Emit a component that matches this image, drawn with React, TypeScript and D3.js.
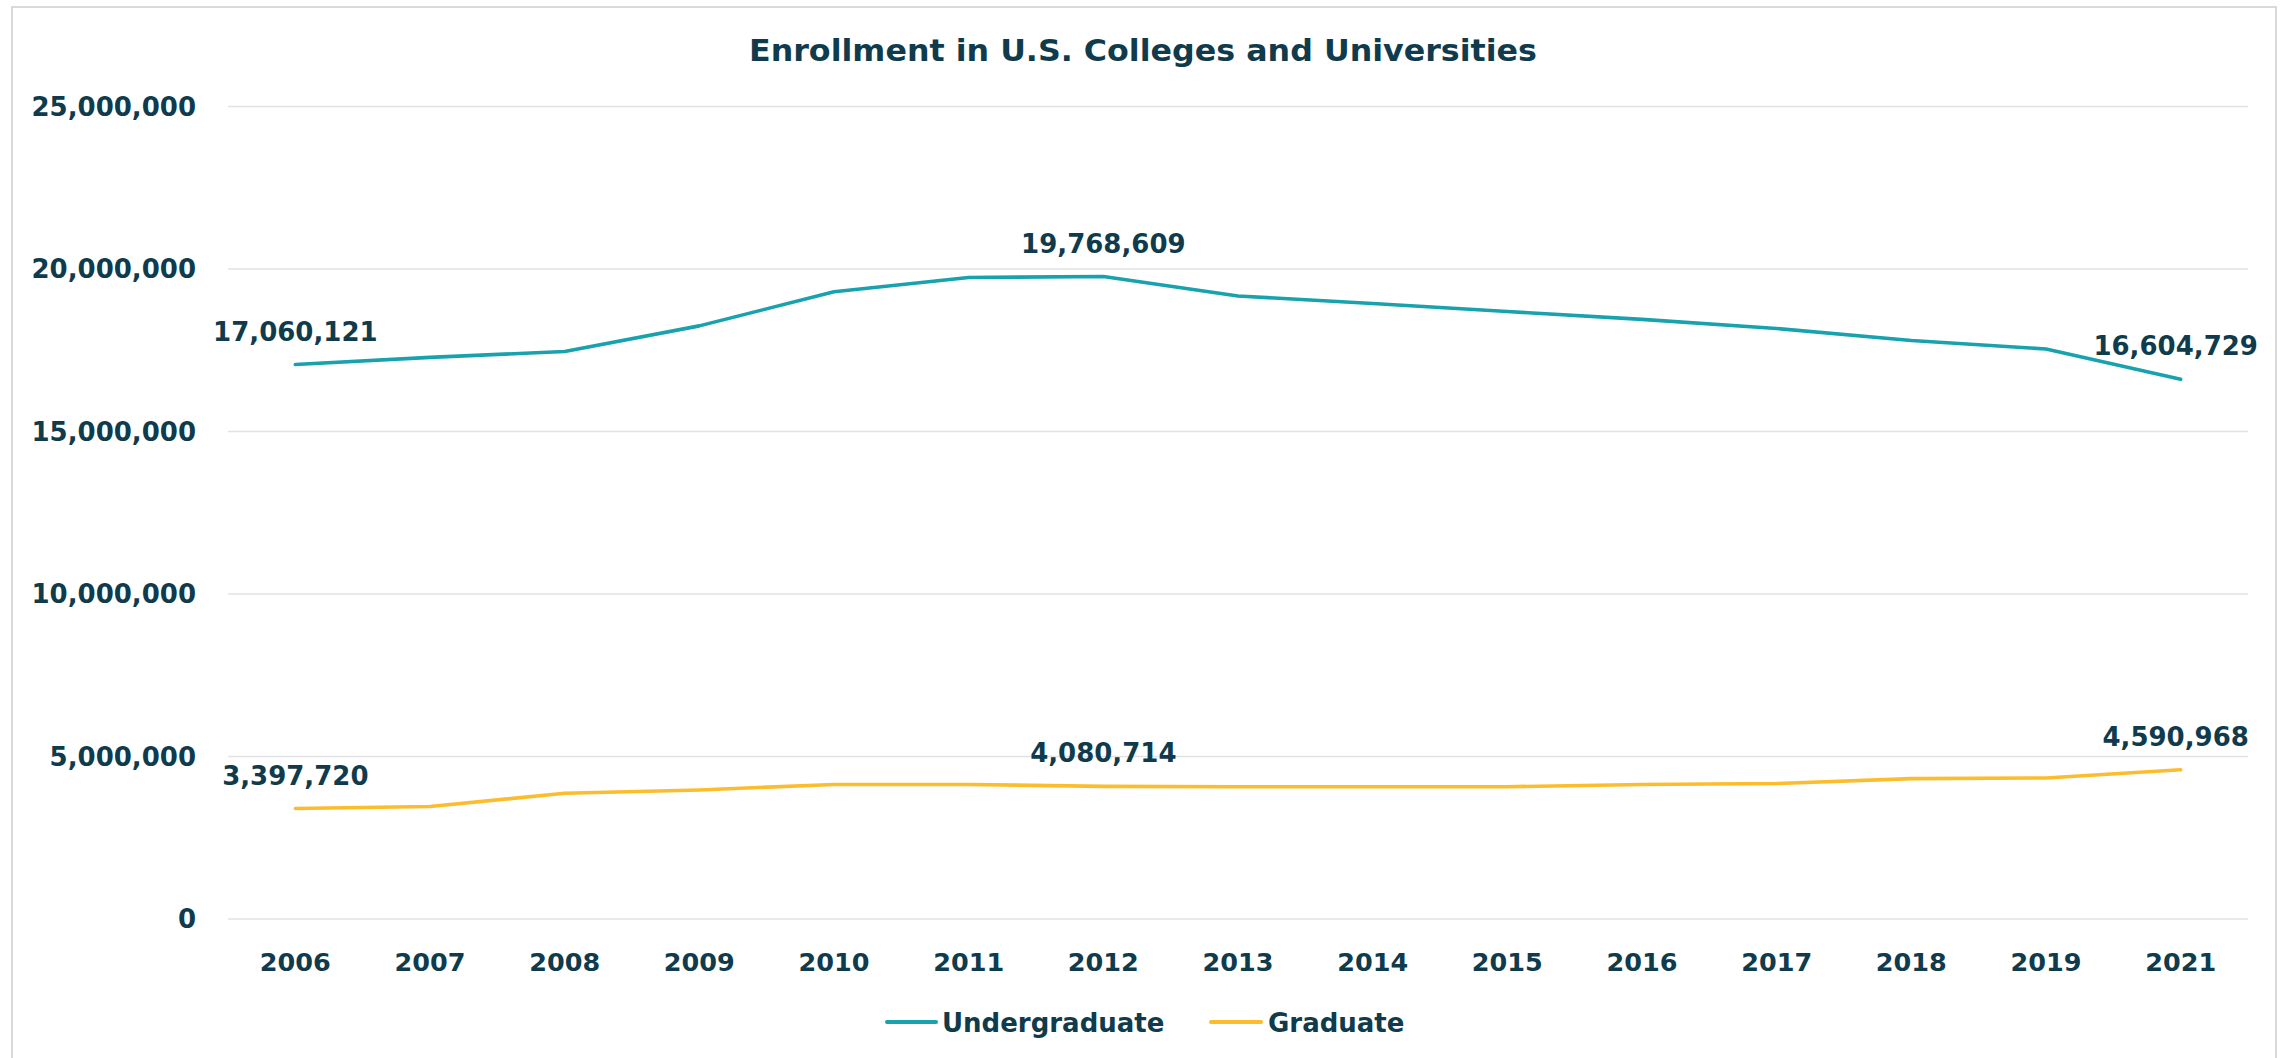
import React from "react";
import * as d3 from "d3";

const years = ["2006","2007","2008","2009","2010","2011","2012","2013","2014","2015","2016","2017","2018","2019","2021"];
const undergraduate = [17060121,17280000,17460000,18250000,19300000,19740000,19768609,19170000,18940000,18690000,18450000,18170000,17800000,17540000,16604729];
const graduate = [3397720,3460000,3870000,3970000,4140000,4140000,4080714,4070000,4070000,4070000,4140000,4170000,4320000,4340000,4590968];
const yTicks = [0,5000000,10000000,15000000,20000000,25000000];
const labeledIdx = [0,6,14];
const seriesNames = ["Undergraduate","Graduate"];
const title = "Enrollment in U.S. Colleges and Universities";

const W = 2283, H = 1058;
const TEXT = "#0f3b4c";
const TEAL = "#17a2ad";
const GOLD = "#fcbd2d";
const FONT = "'DejaVu Sans', Verdana, sans-serif";

export default function App() {
  const x = d3.scalePoint<string>().domain(years).range([228, 2248]).padding(0.5);
  const y = d3.scaleLinear().domain([0, 25000000]).range([919, 106.5]);
  const fmt = d3.format(",");
  const line = d3.line<number>().x((_, i) => x(years[i]) as number).y(d => y(d));
  const series = [
    { name: seriesNames[0], data: undergraduate, color: TEAL },
    { name: seriesNames[1], data: graduate, color: GOLD },
  ];
  const legendItems = [
    { name: seriesNames[0], color: TEAL, x1: 887, x2: 936, tx: 942 },
    { name: seriesNames[1], color: GOLD, x1: 1211, x2: 1261, tx: 1268 },
  ];
  return (
    <svg width={W} height={H} style={{ position: "absolute", left: 0, top: 0, background: "#fff" }} fontFamily={FONT}>
      <rect x={0} y={0} width={W} height={H} fill="#fff" />
      <rect x={12} y={7} width={2264} height={H + 20} fill="none" stroke="#d9d9d9" strokeWidth={2} />
      <text x={1143} y={61} textAnchor="middle" fontSize={31} fontWeight="bold" fill={TEXT} textLength={788} lengthAdjust="spacingAndGlyphs">{title}</text>
      {yTicks.map(t => (
        <g key={t}>
          <line x1={228} x2={2248} y1={y(t)} y2={y(t)} stroke="#e2e2e2" strokeWidth={1.6} />
          <text x={196} y={y(t)} dy="0.36em" textAnchor="end" fontSize={26} fontWeight="bold" fill={TEXT}>{fmt(t)}</text>
        </g>
      ))}
      {years.map(yr => (
        <text key={yr} x={x(yr)} y={971} textAnchor="middle" fontSize={25.5} fontWeight="bold" fill={TEXT}>{yr}</text>
      ))}
      {series.map(s => (
        <path key={s.name} d={line(s.data) || ""} fill="none" stroke={s.color} strokeWidth={3.6} strokeLinejoin="round" strokeLinecap="round" />
      ))}
      {series.map(s => labeledIdx.map(i => (
        <text key={s.name + i} x={(x(years[i]) as number) - (i === years.length - 1 ? 5 : 0)} y={y(s.data[i]) - 24} textAnchor="middle" fontSize={26} fontWeight="bold" fill={TEXT}>{fmt(s.data[i])}</text>
      )))}
      {legendItems.map(l => (
        <g key={l.name}>
          <line x1={l.x1} x2={l.x2} y1={1022} y2={1022} stroke={l.color} strokeWidth={4} strokeLinecap="round" />
          <text x={l.tx} y={1031.5} fontSize={26} fontWeight="bold" fill={TEXT}>{l.name}</text>
        </g>
      ))}
    </svg>
  );
}
